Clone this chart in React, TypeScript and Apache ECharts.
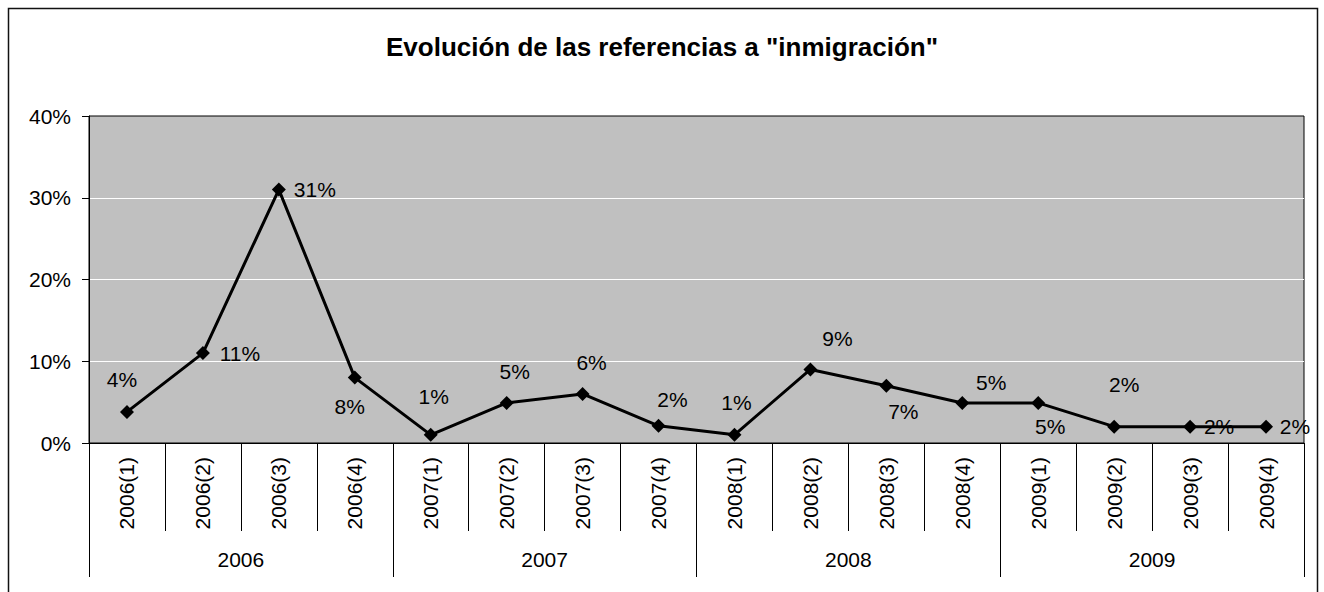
import React, { useEffect, useRef } from "react";
import * as echarts from "echarts";

const categories = [
  "2006(1)", "2006(2)", "2006(3)", "2006(4)",
  "2007(1)", "2007(2)", "2007(3)", "2007(4)",
  "2008(1)", "2008(2)", "2008(3)", "2008(4)",
  "2009(1)", "2009(2)", "2009(3)", "2009(4)",
];
const years = ["2006", "2007", "2008", "2009"];
const values = [3.8, 11, 31, 8, 1, 4.9, 6, 2.1, 1, 9, 7, 4.9, 4.9, 2, 2, 2];
const labelOffsets: [number, number][] = [
  [-5, -32], [37, 0], [36, 0], [-5, 29],
  [3, -38], [8, -31], [9, -31], [14, -26],
  [2, -32], [27, -31], [17, 26], [29, -20],
  [12, 24], [10, -42], [29, 0], [29, 0],
];
const yTicks = [0, 10, 20, 30, 40];

const FONT = "'Liberation Sans', Arial, sans-serif";

export default function App() {
  const ref = useRef<HTMLDivElement>(null);
  useEffect(() => {
    if (!ref.current) return;
    const chart = echarts.init(ref.current, null, { renderer: "svg" });
    chart.setOption({
      animation: false,
      backgroundColor: "#fff",
      textStyle: { fontFamily: FONT },
      title: {
        text: 'Evolución de las referencias a "inmigración"',
        left: "center",
        top: 29,
        textStyle: { fontFamily: FONT, fontSize: 26, fontWeight: "bold", color: "#000" },
      },
      graphic: [
        {
          type: "rect",
          shape: { x: 8.5, y: 8.5, width: 1309, height: 600 },
          style: { fill: "none", stroke: "#111", lineWidth: 1.5 },
          silent: true,
        },
      ],
      grid: {
        left: 89,
        right: 20,
        top: 116,
        bottom: 149,
        show: true,
        backgroundColor: "#C0C0C0",
        borderColor: "#000",
        borderWidth: 1,
      },
      xAxis: [
        {
          type: "category",
          data: categories,
          boundaryGap: true,
          position: "bottom",
          axisLine: { lineStyle: { color: "#000", width: 1 } },
          axisTick: { show: true, length: 88, interval: 0, lineStyle: { color: "#000" } },
          axisLabel: {
            interval: 0,
            rotate: 90,
            margin: 14,
            fontSize: 21,
            color: "#000",
            fontFamily: FONT,
          },
          splitLine: { show: false },
        },
        {
          type: "category",
          data: years,
          boundaryGap: true,
          position: "bottom",
          offset: 88,
          axisLine: { show: false },
          axisTick: { show: true, length: 46, interval: 0, lineStyle: { color: "#000" } },
          axisLabel: { interval: 0, margin: 18, fontSize: 21, color: "#000", fontFamily: FONT },
          splitLine: { show: false },
        },
      ],
      yAxis: {
        type: "value",
        min: 0,
        max: 40,
        interval: 10,
        axisLine: { show: true, lineStyle: { color: "#000" } },
        axisTick: { show: true, length: 7, lineStyle: { color: "#000" } },
        axisLabel: {
          fontSize: 21,
          color: "#000",
          margin: 18,
          fontFamily: FONT,
          formatter: (v: number) => (yTicks.includes(v) ? v + "%" : ""),
        },
        splitLine: {
          show: true,
          showMinLine: false,
          showMaxLine: false,
          lineStyle: { color: "#fff", width: 1 },
        },
      },
      series: [
        {
          type: "line",
          xAxisIndex: 0,
          data: values,
          label: {
            show: true,
            position: "inside",
            formatter: (p: any) => Math.round(p.value) + "%",
            fontSize: 21,
            color: "#000",
            fontFamily: FONT,
          },
          labelLayout: (p: any) => {
            const o = labelOffsets[p.dataIndex] || [0, 0];
            return { dx: o[0], dy: o[1], hideOverlap: false };
          },
          symbol: "diamond",
          symbolSize: 14,
          itemStyle: { color: "#000" },
          lineStyle: { color: "#000", width: 3 },
        },
      ],
    });
    return () => chart.dispose();
  }, []);
  return (
    <div
      ref={ref}
      style={{ position: "absolute", left: 0, top: 0, width: 1324, height: 592 }}
    />
  );
}
